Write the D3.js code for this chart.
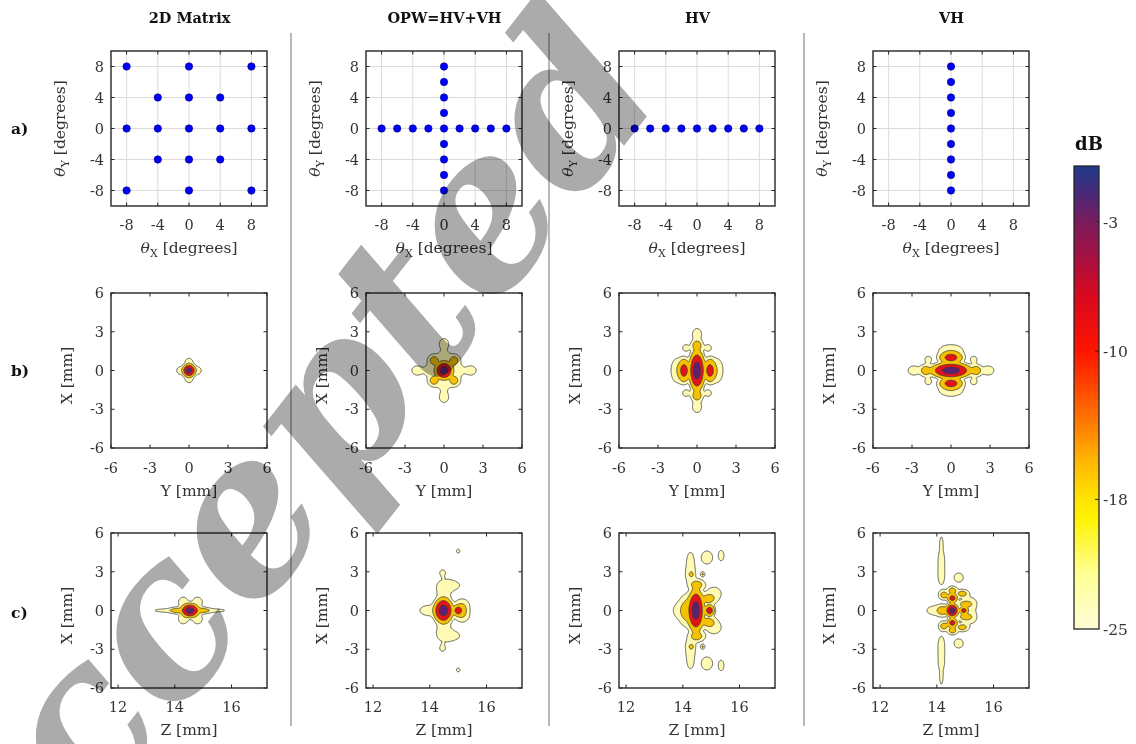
<!DOCTYPE html>
<html><head><meta charset="utf-8">
<script src="https://cdn.jsdelivr.net/npm/d3@7"></script>
<style>body{margin:0;background:#fff}svg{display:block}</style>
</head><body>
<svg id="fig" width="1136" height="744"></svg>
<script>
// ---------------- data ----------------
const columnTitles = ["2D Matrix", "OPW=HV+VH", "HV", "VH"];
const rowTags = ["a)", "b)", "c)"];
const angleTicks = [-8, -4, 0, 4, 8];
const lateralTicks = [-6, -3, 0, 3, 6];
const axialTicks = [12, 14, 16];
const levelsDb = [-25, -18, -10, -3];
const colorbarTicks = [-3, -10, -18, -25];

// steering angles [θX, θY] in degrees
const anglesMatrix = [[-8,8],[0,8],[8,8],[-4,4],[0,4],[4,4],[-8,0],[-4,0],[0,0],[4,0],[8,0],[-4,-4],[0,-4],[4,-4],[-8,-8],[0,-8],[8,-8]];
const anglesOPW = [[-8,0],[-6,0],[-4,0],[-2,0],[0,0],[2,0],[4,0],[6,0],[8,0],[0,8],[0,6],[0,4],[0,2],[0,-2],[0,-4],[0,-6],[0,-8]];
const anglesHV = [[-8,0],[-6,0],[-4,0],[-2,0],[0,0],[2,0],[4,0],[6,0],[8,0]];
const anglesVH = [[0,8],[0,6],[0,4],[0,2],[0,0],[0,-2],[0,-4],[0,-6],[0,-8]];

// PSF lobes: [centre h (mm), centre v (mm), peak (dB), half-width h at -25 dB, half-width v at -25 dB]
// lateral plane: h = Y, v = X
const lateralMatrix = [
  [0,0,0,0.62,0.62],
  [0.62,0,-21,0.32,0.3],[-0.62,0,-21,0.32,0.3],[0,0.62,-21,0.3,0.32],[0,-0.62,-21,0.3,0.32]
];
const lateralOPW = [
  [0,0,0,0.85,0.85],
  [0.78,0.78,-15,0.5,0.5],[-0.78,0.78,-15,0.5,0.5],[0.78,-0.78,-15,0.5,0.5],[-0.78,-0.78,-15,0.5,0.5],
  [1.05,0,-20,0.45,0.5],[-1.05,0,-20,0.45,0.5],[0,1.05,-20,0.5,0.45],[0,-1.05,-20,0.5,0.45],
  [2.05,0,-21.5,0.42,0.36],[-2.05,0,-21.5,0.42,0.36],[0,2.05,-21.5,0.36,0.42],[0,-2.05,-21.5,0.36,0.42]
];
const lateralHV = [
  [0,0,0,0.75,1.9],
  [1.0,0,-7,0.6,1.1],[-1.0,0,-7,0.6,1.1],
  [0,1.95,-14,0.5,0.5],[0,-1.95,-14,0.5,0.5],
  [0.85,1.75,-22,0.25,0.25],[-0.85,1.75,-22,0.25,0.25],[0.85,-1.75,-22,0.25,0.25],[-0.85,-1.75,-22,0.25,0.25],
  [1.55,0,-20,0.45,0.9],[-1.55,0,-20,0.45,0.9],
  [0,2.8,-21,0.35,0.45],[0,-2.8,-21,0.35,0.45]
];
const lateralVH = [
  [0,0,0,1.9,0.75],
  [0,1.0,-7,1.1,0.6],[0,-1.0,-7,1.1,0.6],
  [1.95,0,-14,0.5,0.5],[-1.95,0,-14,0.5,0.5],
  [1.75,0.85,-22,0.25,0.25],[-1.75,0.85,-22,0.25,0.25],[1.75,-0.85,-22,0.25,0.25],[-1.75,-0.85,-22,0.25,0.25],
  [0,1.55,-20,0.9,0.45],[0,-1.55,-20,0.9,0.45],
  [2.85,0,-21,0.45,0.35],[-2.85,0,-21,0.45,0.35]
];
// axial plane: h = Z, v = X
const axialMatrix = [
  [14.53,0,0,0.4,0.66],
  [14.1,0,-15,0.35,0.28],[14.95,0,-15,0.35,0.28],
  [13.75,0,-21,0.45,0.13],[15.3,0,-21,0.45,0.13],
  [14.3,0.65,-21,0.17,0.38],[14.3,-0.65,-21,0.17,0.38],[14.8,0.65,-21,0.17,0.38],[14.8,-0.65,-21,0.17,0.38]
];
const axialOPW = [
  [14.48,0,0,0.42,1.2],
  [15.0,0,-6,0.22,0.5],
  [15.1,0,-15,0.3,0.7],
  [14.0,0,-21,0.35,0.4],
  [15.15,0.45,-21,0.2,0.4],[15.15,-0.45,-21,0.2,0.4],
  [14.5,1.5,-21,0.25,0.6],[14.5,-1.5,-21,0.25,0.6],
  [14.55,2.0,-22,0.2,0.35],[14.55,-2.0,-22,0.2,0.35],
  [14.85,1.95,-22,0.2,0.3],[14.85,-1.95,-22,0.2,0.3],
  [14.45,2.9,-23,0.1,0.25],[14.45,-2.9,-23,0.1,0.25],
  [15.0,4.6,-23.5,0.06,0.15],[15.0,-4.6,-23.5,0.06,0.15]
];
const axialHV = [
  [14.46,0,0,0.36,2.0],
  [14.94,0,-6,0.22,0.55],
  [14.15,0,-15,0.3,1.3],
  [14.9,0.9,-15,0.3,0.5],[14.9,-0.9,-15,0.3,0.5],
  [14.5,2.0,-15,0.3,0.45],[14.5,-2.0,-15,0.3,0.45],
  [13.95,0,-21,0.28,0.6],
  [14.27,2.8,-21,0.18,0.7],[14.27,-2.8,-21,0.18,0.7],
  [14.27,3.9,-22,0.12,0.6],[14.27,-3.9,-22,0.12,0.6],
  [15.1,1.3,-21,0.25,0.5],[15.1,-1.3,-21,0.25,0.5],
  [14.85,4.1,-21.5,0.2,0.5],[14.85,-4.1,-21.5,0.2,0.5],
  [15.35,4.25,-22,0.1,0.4],[15.35,-4.25,-22,0.1,0.4],
  [14.3,2.8,-16,0.1,0.25],[14.3,-2.8,-16,0.1,0.25],
  [14.7,2.8,-17,0.08,0.2],[14.7,-2.8,-17,0.08,0.2]
];
const axialVH = [
  [14.54,0,0,0.28,0.65],
  [14.95,0,-7,0.2,0.35],
  [14.55,0.95,-7,0.22,0.45],[14.55,-0.95,-7,0.22,0.45],
  [14.2,0,-15,0.25,0.5],
  [15.0,0.5,-15,0.3,0.35],[15.0,-0.5,-15,0.3,0.35],
  [14.25,1.2,-15,0.2,0.4],[14.25,-1.2,-15,0.2,0.4],
  [14.9,1.3,-15,0.25,0.35],[14.9,-1.3,-15,0.25,0.35],
  [14.55,1.55,-15,0.2,0.35],[14.55,-1.55,-15,0.2,0.35],
  [13.95,0,-21,0.3,0.35],
  [14.16,2.8,-22,0.12,0.8],[14.16,-2.8,-22,0.12,0.8],
  [14.16,4.1,-21.5,0.1,0.7],[14.16,-4.1,-21.5,0.1,0.7],
  [14.16,5.3,-23,0.05,0.4],[14.16,-5.3,-23,0.05,0.4],
  [14.77,2.55,-21.5,0.16,0.35],[14.77,-2.55,-21.5,0.16,0.35],
  [15.2,0.5,-21,0.2,0.5],[15.2,-0.5,-21,0.2,0.5]
];

// colour map of the dB scale (value, colour) and the fill of each contour band
const colormapStops = [[-25,"#fffdd6"],[-22,"#ffff95"],[-19,"#fff200"],[-18,"#ffe400"],[-16,"#ffb800"],[-13.5,"#ff7000"],[-10,"#ff1400"],[-7,"#d8081e"],[-5,"#a81040"],[-3,"#7a1c5e"],[-1.5,"#4a2878"],[0,"#1f3a8c"]];
const bandFill = ["#fffbb4", "#f6c200", "#e6121a", "#5a2272"];

// ---------------- layout ----------------
const colLeft = [111, 366, 619, 873];
const rowTop = [51, 293, 533];
const PW = 156, PH = 155;
const FONT = "'DejaVu Serif', serif";
const INK = "#262626";
const svg = d3.select("#fig");

// column titles and separators
svg.selectAll("text.title").data(columnTitles).join("text")
  .attr("x", (d,i) => colLeft[i] + PW/2 + 0.5).attr("y", 23)
  .attr("text-anchor", "middle").attr("font-family", FONT).attr("font-weight", "bold")
  .attr("font-size", 14.5).attr("fill", "#111").text(d => d);
[291, 549, 804].forEach(x => svg.append("line").attr("x1", x).attr("x2", x).attr("y1", 33).attr("y2", 726)
  .attr("stroke", "#9a9a9a").attr("stroke-width", 1.4));
svg.selectAll("text.tag").data(rowTags).join("text")
  .attr("x", 11).attr("y", (d,i) => [134, 376, 618][i])
  .attr("font-family", FONT).attr("font-weight", "bold").attr("font-size", 15.5).attr("fill", "#111").text(d => d);

function axisFrame(g, L, T, xs, ys, xt, yt, opt) {
  const B = T + PH, R = L + PW;
  if (opt.grid) {
    g.selectAll("line.gx").data(xt).join("line").attr("x1", d => xs(d)).attr("x2", d => xs(d))
      .attr("y1", T).attr("y2", B).attr("stroke", "#dcdcdc").attr("stroke-width", 1);
    g.selectAll("line.gy").data(yt).join("line").attr("y1", d => ys(d)).attr("y2", d => ys(d))
      .attr("x1", L).attr("x2", R).attr("stroke", "#dcdcdc").attr("stroke-width", 1);
  }
  opt.content && opt.content(g);
  const tk = 3.5, tl = g.append("g").attr("stroke", INK).attr("stroke-width", 1);
  xt.forEach(v => { const x = xs(v);
    tl.append("line").attr("x1", x).attr("x2", x).attr("y1", B).attr("y2", B - tk);
    tl.append("line").attr("x1", x).attr("x2", x).attr("y1", T).attr("y2", T + tk); });
  yt.forEach(v => { const y = ys(v);
    tl.append("line").attr("y1", y).attr("y2", y).attr("x1", L).attr("x2", L + tk);
    tl.append("line").attr("y1", y).attr("y2", y).attr("x1", R).attr("x2", R - tk); });
  g.append("rect").attr("x", L).attr("y", T).attr("width", PW).attr("height", PH)
    .attr("fill", "none").attr("stroke", INK).attr("stroke-width", 1.4);
  g.selectAll("text.xt").data(xt).join("text").attr("x", d => xs(d)).attr("y", B + opt.xtOff)
    .attr("text-anchor", "middle").attr("font-family", FONT).attr("font-size", 14.5).attr("fill", "#333").text(d => d);
  g.selectAll("text.yt").data(yt).join("text").attr("x", L - 7).attr("y", d => ys(d) + 5)
    .attr("text-anchor", "end").attr("font-family", FONT).attr("font-size", 14.5).attr("fill", "#333").text(d => d);
}

function labelTheta(g, x, y, sub, rotate) {
  const t = g.append("text").attr("font-family", FONT).attr("font-size", 15.5).attr("fill", "#333")
    .attr("text-anchor", "middle")
    .attr("transform", `translate(${x},${y})` + (rotate ? " rotate(-90)" : ""));
  t.append("tspan").attr("font-style", "italic").text("θ");
  t.append("tspan").attr("font-size", 11).attr("dy", 4).text(sub);
  t.append("tspan").attr("dy", -4).text(" [degrees]");
}
function labelPlain(g, x, y, s, rotate) {
  g.append("text").attr("font-family", FONT).attr("font-size", 15.5).attr("fill", "#333")
    .attr("text-anchor", "middle")
    .attr("transform", `translate(${x},${y})` + (rotate ? " rotate(-90)" : "")).text(s);
}

// ---- row a: steering angle layouts ----
[anglesMatrix, anglesOPW, anglesHV, anglesVH].forEach((pts, i) => {
  const L = colLeft[i], T = rowTop[0];
  const xs = d3.scaleLinear([-10, 10], [L, L + PW]);
  const ys = d3.scaleLinear([-10, 10], [T + PH, T]);
  const g = svg.append("g");
  axisFrame(g, L, T, xs, ys, angleTicks, angleTicks, {
    grid: true, xtOff: 24,
    content: gg => gg.selectAll("circle").data(pts).join("circle")
      .attr("cx", d => xs(d[0])).attr("cy", d => ys(d[1])).attr("r", 3.7)
      .attr("fill", "#0000ff").attr("stroke", "#00006a").attr("stroke-width", 0.6)
  });
  labelTheta(g, L - 46, T + PH/2, "Y", true);
  labelTheta(g, L + PW/2, T + PH + 47, "X", false);
});

// ---- rows b and c: beam patterns as filled contours ----
function fieldDb(lobes, h, v) {
  let p = 0;
  for (const [ch, cv, pk, rh, rv] of lobes) {
    const u = (h - ch) / rh, w = (v - cv) / rv, r2 = u*u + w*w;
    if (r2 > 4) continue;
    p += Math.pow(10, (pk - (pk + 25) * r2) / 10);
  }
  return 10 * Math.log10(Math.max(p, 1e-12));
}

function contourPanel(g, lobes, L, T, xs, ys, hDom, step) {
  const [h0, h1] = hDom, v0 = -6, v1 = 6;
  const nx = Math.round((h1 - h0) / step[0]) + 1, ny = Math.round((v1 - v0) / step[1]) + 1;
  const vals = new Float64Array(nx * ny);
  for (let j = 0; j < ny; j++) {
    const v = v1 - j * step[1];
    for (let i = 0; i < nx; i++) vals[i + j * nx] = fieldDb(lobes, h0 + i * step[0], v);
  }
  const polys = d3.contours().size([nx, ny]).thresholds(levelsDb)(vals);
  const proj = d3.geoTransform({ point(x, y) {
    this.stream.point(xs(h0 + (x - 0.5) * step[0]), ys(v1 - (y - 0.5) * step[1])); } });
  const path = d3.geoPath(proj);
  const id = "clip" + L + "_" + T;
  g.append("clipPath").attr("id", id).append("rect").attr("x", L).attr("y", T).attr("width", PW).attr("height", PH);
  g.append("g").attr("clip-path", `url(#${id})`).selectAll("path").data(polys).join("path")
    .attr("d", path).attr("fill", (d, k) => bandFill[k])
    .attr("stroke", "#3a3a3a").attr("stroke-width", 0.8).attr("stroke-linejoin", "round");
}

[lateralMatrix, lateralOPW, lateralHV, lateralVH].forEach((lobes, i) => {
  const L = colLeft[i], T = rowTop[1];
  const xs = d3.scaleLinear([-6, 6], [L, L + PW]);
  const ys = d3.scaleLinear([-6, 6], [T + PH, T]);
  const g = svg.append("g");
  axisFrame(g, L, T, xs, ys, lateralTicks, lateralTicks, {
    xtOff: 25, content: gg => contourPanel(gg, lobes, L, T, xs, ys, [-6, 6], [0.04, 0.04]) });
  labelPlain(g, L - 39, T + PH/2 + 5, "X [mm]", true);
  labelPlain(g, L + PW/2, T + PH + 48, "Y [mm]", false);
});

[axialMatrix, axialOPW, axialHV, axialVH].forEach((lobes, i) => {
  const L = colLeft[i], T = rowTop[2];
  const xs = d3.scaleLinear([11.75, 17.25], [L, L + PW]);
  const ys = d3.scaleLinear([-6, 6], [T + PH, T]);
  const g = svg.append("g");
  axisFrame(g, L, T, xs, ys, axialTicks, lateralTicks, {
    xtOff: 24, content: gg => contourPanel(gg, lobes, L, T, xs, ys, [11.75, 17.25], [0.02, 0.04]) });
  labelPlain(g, L - 39, T + PH/2 + 5, "X [mm]", true);
  labelPlain(g, L + PW/2, T + PH + 47, "Z [mm]", false);
});

// ---- colour bar ----
const cbX = 1074, cbW = 25;
const cbScale = d3.scaleLinear([-25, 0], [629, 166]);
const grad = svg.append("defs").append("linearGradient").attr("id", "cbgrad")
  .attr("x1", 0).attr("x2", 0).attr("y1", 1).attr("y2", 0);
colormapStops.forEach(([v, c]) => grad.append("stop").attr("offset", (v + 25) / 25).attr("stop-color", c));
svg.append("rect").attr("x", cbX).attr("y", cbScale(0)).attr("width", cbW).attr("height", cbScale(-25) - cbScale(0))
  .attr("fill", "url(#cbgrad)").attr("stroke", INK).attr("stroke-width", 1.3);
colorbarTicks.forEach(v => {
  if (v > -25) svg.append("line").attr("x1", cbX + cbW - 4).attr("x2", cbX + cbW).attr("y1", cbScale(v)).attr("y2", cbScale(v))
    .attr("stroke", INK).attr("stroke-width", 1);
  svg.append("text").attr("x", cbX + cbW + 4).attr("y", cbScale(v) + 6).attr("font-family", FONT)
    .attr("font-size", 15.5).attr("fill", "#333").text(v);
});
svg.append("text").attr("x", 1089).attr("y", 150).attr("text-anchor", "middle").attr("font-family", FONT)
  .attr("font-weight", "bold").attr("font-size", 18).attr("fill", "#111").text("dB");

// ---- manuscript stamp ----
svg.append("text").attr("transform", "translate(330,522) rotate(-52)")
  .attr("text-anchor", "middle").attr("font-family", FONT).attr("font-style", "italic").attr("font-weight", "bold")
  .attr("font-size", 215).attr("fill", "#ababab").style("mix-blend-mode", "multiply")
  .text("Accepted");
</script>
</body></html>
